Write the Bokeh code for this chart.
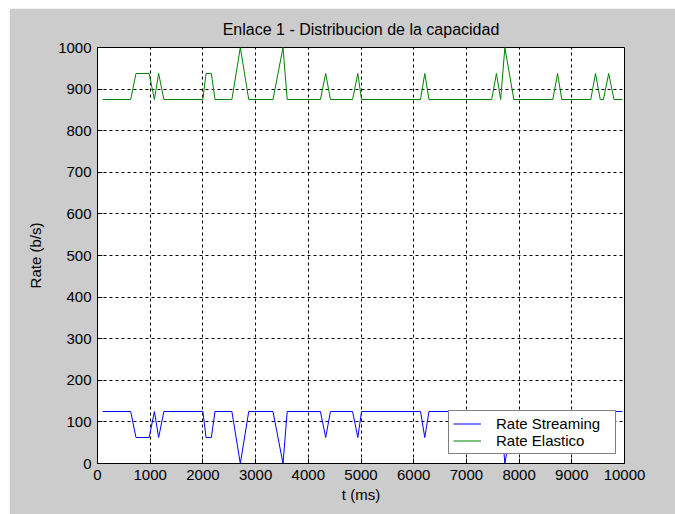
from bokeh.plotting import figure
from bokeh.models import FixedTicker, Legend, LegendItem, Spacer, Range1d
from bokeh.layouts import column, row
from bokeh.embed import file_html
from bokeh.resources import INLINE

# time samples (ms)
t_ms = [100, 630, 730, 980, 1080, 1160, 1260, 2000, 2060, 2160, 2230,
        2550, 2710, 2870, 3330, 3520, 3600, 4230, 4330, 4420, 4840, 4940,
        5010, 6130, 6210, 6290, 7480, 7570, 7650, 7730, 7900, 8640, 8730,
        8810, 9360, 9450, 9540, 9600, 9700, 9800, 9960]
rate_elastico = [875, 875, 937.5, 937.5, 875, 937.5, 875, 875, 937.5, 937.5, 875,
                 875, 1000, 875, 875, 1000, 875, 875, 937.5, 875, 875, 937.5,
                 875, 875, 937.5, 875, 875, 937.5, 875, 1000, 875, 875, 937.5,
                 875, 875, 937.5, 875, 875, 937.5, 875, 875]
rate_streaming = [125, 125, 62.5, 62.5, 125, 62.5, 125, 125, 62.5, 62.5, 125,
                  125, 0, 125, 125, 0, 125, 125, 62.5, 125, 125, 62.5,
                  125, 125, 62.5, 125, 125, 62.5, 125, 0, 125, 125, 62.5,
                  125, 125, 62.5, 125, 125, 62.5, 125, 125]
x_ticks = [0, 1000, 2000, 3000, 4000, 5000, 6000, 7000, 8000, 9000, 10000]
y_ticks = [0, 100, 200, 300, 400, 500, 600, 700, 800, 900, 1000]

FONT = "Liberation Sans"

p = figure(width=666, height=506, x_range=Range1d(0, 10000), y_range=Range1d(0, 1000),
           output_backend="svg", toolbar_location=None,
           min_border_left=88, min_border_right=51, min_border_top=39, min_border_bottom=51,
           title="Enlace 1 - Distribucion de la capacidad")
p.border_fill_color = "#cccccc"
p.background_fill_color = "white"
p.outline_line_color = "black"
p.outline_line_width = 1

p.title.align = "center"
p.title.text_font = FONT
p.title.text_font_size = "16px"
p.title.text_font_style = "normal"
p.title.text_color = "black"
p.title.standoff = 20

for ax, ticks in ((p.xaxis, x_ticks), (p.yaxis, y_ticks)):
    ax.ticker = FixedTicker(ticks=ticks)
    ax.major_tick_in = 5
    ax.major_tick_out = 0
    ax.minor_tick_in = 0
    ax.minor_tick_out = 0
    ax.axis_line_color = "black"
    ax.major_tick_line_color = "black"
    ax.major_label_text_font = FONT
    ax.major_label_text_font_size = "15px"
    ax.major_label_text_color = "black"
    ax.axis_label_text_font = FONT
    ax.axis_label_text_font_size = "15px"
    ax.axis_label_text_font_style = "normal"
    ax.axis_label_text_color = "black"

p.xaxis.axis_label = "t (ms)"
p.yaxis.axis_label = "Rate (b/s)"
p.xaxis.major_label_standoff = 6
p.yaxis.major_label_standoff = 6
p.xaxis.axis_label_standoff = 3
p.yaxis.axis_label_standoff = 11

p.xgrid.ticker = FixedTicker(ticks=x_ticks)
p.ygrid.ticker = FixedTicker(ticks=y_ticks)
for g in (p.xgrid, p.ygrid):
    g.grid_line_color = "black"
    g.grid_line_dash = "3 3"
    g.grid_line_width = 1

r1 = p.line(t_ms, rate_streaming, line_color="#0000ff", line_width=1)
r2 = p.line(t_ms, rate_elastico, line_color="#008000", line_width=1)

legend = Legend(items=[LegendItem(label="Rate Streaming", renderers=[r1]),
                       LegendItem(label="Rate Elastico", renderers=[r2])],
                location=(351, 9))
legend.border_line_color = "black"
legend.border_line_width = 1
legend.background_fill_color = "white"
legend.background_fill_alpha = 1
legend.padding = 4
legend.margin = 0
legend.spacing = 0
legend.label_height = 17
legend.glyph_height = 17
legend.glyph_width = 28
legend.label_standoff = 15
legend.label_width = 115
legend.label_text_font = FONT
legend.label_text_font_size = "15px"
legend.label_text_color = "black"
p.add_layout(legend)

layout = column(Spacer(height=8), row(Spacer(width=9), p))
open("out.html", "w").write(file_html(layout, INLINE))
